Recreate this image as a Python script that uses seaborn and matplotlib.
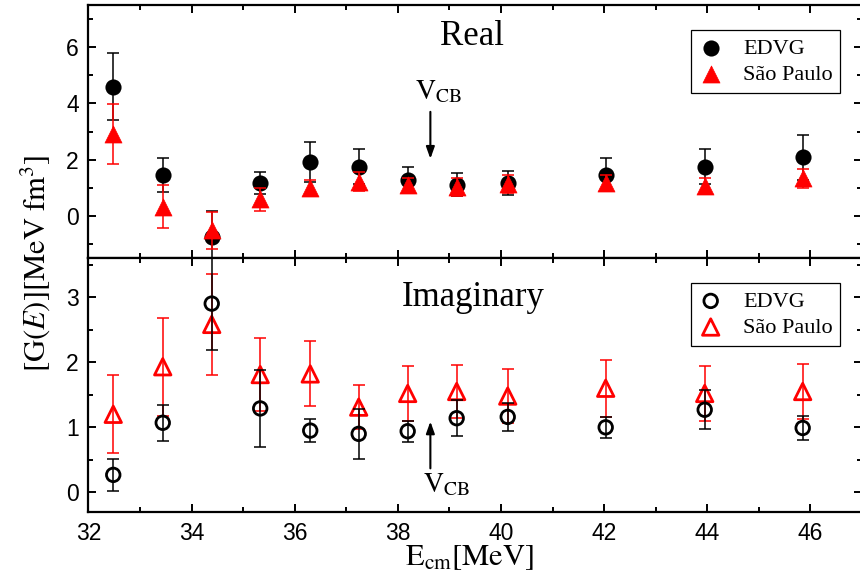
import matplotlib
matplotlib.use("Agg")
import matplotlib.pyplot as plt
import seaborn as sns
from matplotlib.ticker import MultipleLocator

# Centre-of-mass energies [MeV]
energy = [32.48, 33.44, 34.39, 35.33, 36.30, 37.24, 38.19, 39.14, 40.13, 42.03, 43.95, 45.85]

# Real part
real_edvg = [4.60, 1.46, -0.76, 1.16, 1.91, 1.75, 1.28, 1.10, 1.16, 1.47, 1.75, 2.09]
real_edvg_err = [1.20, 0.60, 0.95, 0.40, 0.71, 0.63, 0.45, 0.41, 0.42, 0.58, 0.63, 0.80]
real_sp = [2.92, 0.33, -0.52, 0.59, 0.99, 1.21, 1.08, 1.03, 1.13, 1.17, 1.07, 1.33]
real_sp_err = [1.07, 0.77, 0.67, 0.40, 0.29, 0.34, 0.27, 0.31, 0.32, 0.30, 0.28, 0.34]

# Imaginary part
imag_edvg = [0.27, 1.07, 2.90, 1.29, 0.95, 0.90, 0.94, 1.14, 1.16, 1.00, 1.27, 0.99]
imag_edvg_err = [0.24, 0.28, 0.71, 0.59, 0.18, 0.38, 0.16, 0.28, 0.22, 0.16, 0.30, 0.18]
imag_sp = [1.20, 1.93, 2.58, 1.81, 1.82, 1.31, 1.52, 1.55, 1.48, 1.60, 1.52, 1.55]
imag_sp_err = [0.60, 0.75, 0.77, 0.56, 0.50, 0.34, 0.42, 0.41, 0.41, 0.44, 0.42, 0.42]

v_cb = 38.63

sns.set_style("ticks")
plt.rcParams["font.family"] = ["Liberation Serif", "DejaVu Serif"]
plt.rcParams["mathtext.fontset"] = "stix"
plt.rcParams["text.color"] = "k"
plt.rcParams["xtick.color"] = "k"
plt.rcParams["ytick.color"] = "k"

RED = "#ff0000"
SERIF = ["Liberation Serif", "DejaVu Serif"]
SANS = ["Liberation Sans", "DejaVu Sans"]

fig = plt.figure(figsize=(8.6, 5.84), dpi=100)
ax_re = fig.add_axes([0.1029, 0.5582, 0.8994, 0.4332])
ax_im = fig.add_axes([0.1029, 0.1233, 0.8994, 0.4349])

err_kw = dict(fmt="none", elinewidth=1.1, capsize=4, capthick=1.1)

# --- Real panel ---
ax_re.errorbar(energy, real_edvg, yerr=real_edvg_err, ecolor="k", **err_kw)
sns.scatterplot(x=energy, y=real_edvg, marker="o", s=135, color="k",
                edgecolor="k", linewidth=0, label="EDVG", ax=ax_re, zorder=3)
ax_re.errorbar(energy, real_sp, yerr=real_sp_err, ecolor=RED, zorder=4, **err_kw)
sns.scatterplot(x=energy, y=real_sp, marker="^", s=150, color=RED,
                edgecolor=RED, linewidth=0.5, label="São Paulo", ax=ax_re, zorder=5)

# --- Imaginary panel ---
ax_im.errorbar(energy, imag_sp, yerr=imag_sp_err, ecolor=RED, **err_kw)
sns.scatterplot(x=energy, y=imag_sp, marker="^", s=140, facecolor="none",
                edgecolor=RED, linewidth=2.0, label="São Paulo", ax=ax_im, zorder=3)
ax_im.errorbar(energy, imag_edvg, yerr=imag_edvg_err, ecolor="k", zorder=4, **err_kw)
sns.scatterplot(x=energy, y=imag_edvg, marker="o", s=95, facecolor="none",
                edgecolor="k", linewidth=2.0, label="EDVG", ax=ax_im, zorder=5)

ax_re.set_xlim(32, 47)
ax_im.set_xlim(32, 47)
ax_re.set_ylim(-1.5, 7.5)
ax_im.set_ylim(-0.3, 3.6)

ax_re.yaxis.set_major_locator(MultipleLocator(2))
ax_re.yaxis.set_minor_locator(MultipleLocator(1))
ax_im.yaxis.set_major_locator(MultipleLocator(1))
ax_im.yaxis.set_minor_locator(MultipleLocator(0.5))

for ax in (ax_re, ax_im):
    ax.xaxis.set_major_locator(MultipleLocator(2))
    ax.xaxis.set_minor_locator(MultipleLocator(1))
    ax.tick_params(which="both", direction="in", top=True, right=True,
                   width=1.4, colors="k")
    ax.tick_params(which="major", length=6)
    ax.tick_params(which="minor", length=3.5)
    ax.tick_params(axis="both", labelsize=16.5, pad=7)
    for lab in ax.get_xticklabels() + ax.get_yticklabels():
        lab.set_family(SANS)
    for sp in ax.spines.values():
        sp.set_linewidth(1.6)
        sp.set_color("k")
    ax.set_xlabel("")
    ax.set_ylabel("")

ax_re.tick_params(axis="x", labelbottom=False)

leg_kw = dict(loc="upper right", bbox_to_anchor=(0.972, 0.90), fancybox=False,
              framealpha=1, edgecolor="k", prop={"family": SERIF, "size": 16},
              handletextpad=0.9, borderpad=0.35, labelspacing=0.25, handlelength=1.1,
              borderaxespad=0)

h_re, l_re = ax_re.get_legend_handles_labels()
ax_re.legend(h_re, l_re, **leg_kw).get_frame().set_linewidth(0.9)
h_im, l_im = ax_im.get_legend_handles_labels()
order = [l_im.index("EDVG"), l_im.index("São Paulo")]
ax_im.legend([h_im[i] for i in order], [l_im[i] for i in order],
             **leg_kw).get_frame().set_linewidth(0.9)

# panel titles
ax_re.text(0.496, 0.874, "Real", transform=ax_re.transAxes, ha="center", va="center",
           fontsize=25, family=SERIF)
ax_im.text(0.497, 0.843, "Imaginary", transform=ax_im.transAxes, ha="center", va="center",
           fontsize=25, family=SERIF)

# Coulomb barrier markers
arrow = dict(arrowstyle="-|>,head_width=0.25,head_length=0.7", color="k", lw=1.5,
             shrinkA=0, shrinkB=0)
ax_re.annotate("", xy=(v_cb, 2.03), xytext=(v_cb, 3.7), arrowprops=arrow)
ax_re.text(38.78, 4.88, r"$\mathrm{V}_{\mathrm{CB}}$", ha="center", va="top", fontsize=20)
ax_im.annotate("", xy=(v_cb, 1.09), xytext=(v_cb, 0.37), arrowprops=arrow)
ax_im.text(38.94, 0.31, r"$\mathrm{V}_{\mathrm{CB}}$", ha="center", va="top", fontsize=20)

fig.text(0.041, 0.55, r"$[\mathrm{G}(E)][\mathrm{MeV\ fm}^{3}]$", rotation=90,
         ha="center", va="center", fontsize=22)
fig.text(0.546, 0.045, r"$\mathrm{E}_{\mathrm{cm}}[\mathrm{MeV}]$",
         ha="center", va="center", fontsize=22)

fig.savefig("out.png", dpi=100)
